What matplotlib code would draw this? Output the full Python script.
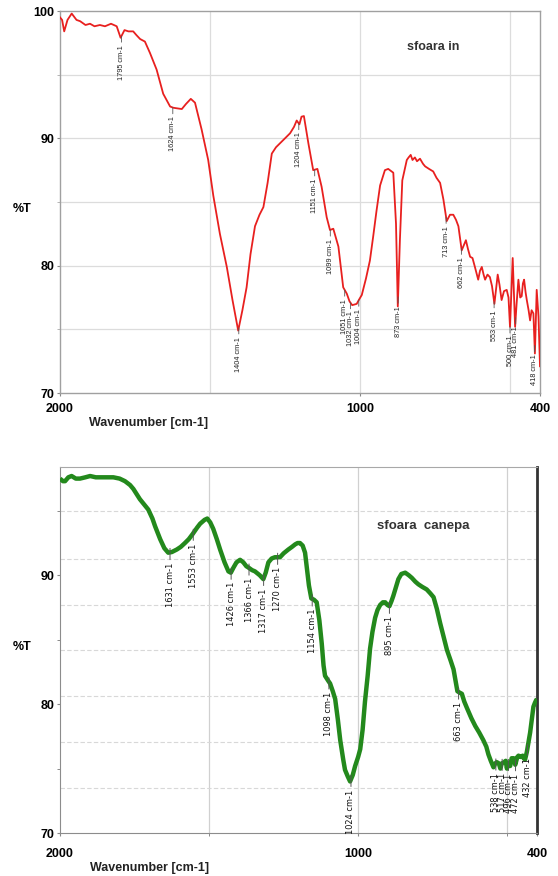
import numpy as np
import matplotlib
matplotlib.use("Agg")
import matplotlib.pyplot as plt
from matplotlib import font_manager

# ---------------- data ----------------
top_wn = [2000, 1993, 1986, 1975, 1961, 1945, 1933, 1915, 1900, 1885, 1867, 1850, 1830, 1811,
          1798, 1785, 1772, 1756, 1745, 1733, 1717, 1700, 1678, 1656, 1633, 1622, 1594, 1580,
          1564, 1550, 1528, 1506, 1489, 1467, 1444, 1425, 1406, 1392, 1378, 1365, 1350, 1335,
          1322, 1308, 1294, 1280, 1267, 1250, 1233, 1220, 1211, 1202, 1195, 1187, 1172, 1156,
          1142, 1128, 1111, 1100, 1089, 1072, 1056, 1044, 1035, 1026, 1011, 1004, 994, 980,
          967, 956, 945, 933, 917, 906, 895, 889, 880, 874, 867, 859, 844, 838, 831, 825, 817,
          810, 800, 790, 783, 770, 756, 745, 733, 722, 711, 700, 689, 680, 672, 661, 647, 640,
          633, 625, 617, 606, 600, 594, 588, 583, 575, 567, 560, 552, 541, 535, 528, 520, 511,
          505, 500, 491, 483, 478, 472, 466, 461, 457, 453, 448, 444, 438, 433, 428, 422, 417,
          411, 405, 400]
top_T = [99.5, 99.3, 98.4, 99.3, 99.8, 99.3, 99.2, 98.9, 99.0, 98.8, 98.9, 98.8, 99.0, 98.8,
         97.9, 98.5, 98.4, 98.4, 98.1, 97.8, 97.6, 96.7, 95.4, 93.5, 92.5, 92.4, 92.3, 92.7,
         93.1, 92.8, 90.7, 88.3, 85.5, 82.5, 79.9, 77.3, 74.9, 76.5, 78.3, 80.9, 83.1, 84.0,
         84.6, 86.5, 88.8, 89.3, 89.6, 90.0, 90.4, 90.9, 91.4, 91.1, 91.7, 91.75, 89.6, 87.5,
         87.6, 86.2, 83.8, 82.8, 82.9, 81.5, 78.3, 77.8, 77.2, 76.9, 77.0, 77.3, 77.7, 79.0,
         80.4, 82.3, 84.3, 86.3, 87.5, 87.6, 87.4, 87.3, 83.3, 76.8, 82.0, 86.7, 88.3, 88.5,
         88.7, 88.3, 88.5, 88.2, 88.4, 88.0, 87.8, 87.6, 87.4, 86.9, 86.5, 85.2, 83.5, 84.0,
         84.0, 83.6, 83.1, 81.2, 82.0, 81.3, 80.7, 80.6, 79.9, 78.9, 79.6, 79.9, 79.3, 78.9,
         79.3, 79.1, 78.4, 77.0, 79.3, 78.5, 77.3, 78.0, 78.1, 77.5, 75.2, 80.6, 75.2, 77.0,
         78.9, 77.5, 77.6, 78.6, 78.9, 77.9, 77.3, 76.5, 75.7, 76.5, 76.25, 73.1, 78.1, 76.0,
         72.1]
top_peaks = [1795, 1624, 1404, 1204, 1151, 1099, 1051, 1032, 1004, 873, 713, 662, 553, 500,
             481, 418]

bot_wn = [2000, 1990, 1983, 1972, 1961, 1947, 1933, 1915, 1899, 1880, 1866, 1840, 1821, 1800,
          1782, 1765, 1754, 1740, 1732, 1718, 1704, 1690, 1681, 1664, 1650, 1637, 1625, 1608,
          1595, 1581, 1568, 1555, 1540, 1530, 1515, 1506, 1496, 1486, 1474, 1463, 1448, 1435,
          1427, 1418, 1408, 1396, 1385, 1375, 1368, 1356, 1346, 1330, 1318, 1310, 1301, 1290,
          1279, 1268, 1262, 1250, 1234, 1222, 1211, 1203, 1195, 1186, 1178, 1170, 1165, 1157,
          1148, 1139, 1130, 1122, 1116, 1111, 1100, 1094, 1085, 1077, 1068, 1060, 1050, 1044,
          1035, 1027, 1018, 1010, 1000, 993, 985, 977, 968, 960, 952, 943, 935, 926, 917, 909,
          902, 895, 888, 882, 873, 865, 855, 842, 830, 820, 808, 798, 785, 770, 758, 747, 736,
          725, 713, 702, 690, 680, 673, 667, 660, 652, 644, 635, 620, 607, 594, 580, 570, 563,
          555, 546, 540, 535, 528, 523, 518, 510, 505, 501, 496, 490, 485, 478, 473, 466, 462,
          455, 448, 445, 440, 434, 429, 423, 417, 412, 407, 403, 400]
bot_T = [97.5, 97.3, 97.3, 97.6, 97.7, 97.5, 97.5, 97.6, 97.7, 97.6, 97.6, 97.6, 97.6, 97.5,
         97.3, 97.0, 96.7, 96.2, 95.9, 95.5, 95.1, 94.4, 93.8, 92.8, 92.1, 91.75, 91.8, 92.0,
         92.2, 92.5, 92.8, 93.2, 93.7, 94.0, 94.3, 94.4, 94.1, 93.6, 92.8, 92.0, 91.0, 90.3,
         90.2, 90.6, 91.0, 91.2, 91.0, 90.7, 90.6, 90.4, 90.3, 90.0, 89.7, 90.2, 91.0, 91.3,
         91.4, 91.4, 91.4, 91.7, 92.0, 92.2, 92.4, 92.5, 92.5, 92.3, 91.75, 90.2, 89.2, 88.2,
         88.1, 87.9, 86.5, 84.7, 83.0, 82.2, 81.8, 81.6, 81.0, 80.4, 78.8, 77.2, 75.7, 74.9,
         74.4, 74.0, 74.5, 75.2, 75.9, 76.5, 78.0, 80.2, 82.2, 84.3, 85.6, 86.7, 87.3, 87.7,
         87.9, 87.9, 87.7, 87.6, 88.0, 88.4, 89.1, 89.7, 90.1, 90.2, 90.0, 89.8, 89.5, 89.3,
         89.1, 88.9, 88.6, 88.3, 87.4, 86.3, 85.2, 84.2, 83.4, 82.7, 81.8, 81.0, 80.9, 80.8,
         80.2, 79.7, 78.9, 78.3, 77.8, 77.2, 76.7, 76.1, 75.6, 75.1, 75.4, 75.5, 75.4, 75.0,
         75.4, 75.5, 75.6, 75.0, 75.4, 75.2, 75.8, 75.8, 75.3, 75.9, 76.0, 75.9, 76.0, 75.8,
         75.7, 76.3, 77.0, 77.8, 78.9, 79.8, 80.1, 80.3, 80.4]
bot_peaks = [1631, 1553, 1426, 1366, 1317, 1270, 1154, 1098, 1024, 895, 663, 538, 517, 496,
             472, 432]

x_ticks = [2000, 1000, 400]
x_grid = [1500, 1000, 500]
y_ticks = [100, 90, 80, 70]
bot_y_ticks = [90, 80, 70]
bot_hgrid = [95.0, 91.3, 87.7, 84.2, 80.6, 77.1, 73.5]

# ---------------- figure ----------------
W, H = 558, 876
fig = plt.figure(figsize=(W / 100, H / 100), dpi=100)
plt.rcParams['font.family'] = ['Liberation Sans', 'DejaVu Sans']

entries = font_manager.fontManager.ttflist
names = {f.name for f in entries}
narrow = 'Liberation Sans Narrow' in names
dv_cond = any(f.name == 'DejaVu Sans' and 'condensed' in str(f.stretch).lower()
              for f in entries)


def fx(px):
    return px / W


def fy(py):
    return 1 - py / H


ax1 = fig.add_axes([fx(60), fy(393), fx(540) - fx(60), fy(11) - fy(393)])
ax2 = fig.add_axes([fx(60), fy(833), fx(537) - fx(60), fy(467) - fy(833)])

# ---- top panel ----
ax1.set_xlim(2000, 400)
ax1.set_ylim(70, 100)
for g in x_grid:
    ax1.axvline(g, color='#dcdcdc', lw=0.9, zorder=0)
for g in [95, 90, 85, 80, 75]:
    ax1.axhline(g, color='#dcdcdc', lw=0.9, zorder=0)
ax1.plot(top_wn, top_T, color='#e8201f', lw=1.3, zorder=3)
for s in ax1.spines.values():
    s.set_color('#a0a0a0')
    s.set_linewidth(1.0)
ax1.set_xticks(x_ticks)
ax1.set_yticks(y_ticks)
ax1.set_yticks([95, 85, 75], minor=True)
ax1.tick_params(axis='both', which='major', labelsize=9, length=2, color='#888')
ax1.tick_params(axis='x', pad=5)
ax1.tick_params(axis='y', pad=2)
ax1.tick_params(axis='y', which='minor', length=2, color='#aaa')
for lab in ax1.get_xticklabels() + ax1.get_yticklabels():
    lab.set_fontweight('bold')
ax1.text(757, 97.2, 'sfoara in', fontsize=9, fontweight='bold', color='#333',
         ha='center', va='center')

tx = np.array(top_wn[::-1], float)
ty = np.array(top_T[::-1], float)
for p in top_peaks:
    yv = np.interp(p, tx, ty)
    ax1.annotate(f"{p} cm-1", xy=(p, yv), xytext=(0, -9), textcoords='offset pixels',
                 rotation=90, ha='center', va='top', fontsize=5.3, color='#222',
                 arrowprops=dict(arrowstyle='-', lw=0.6, color='#555', shrinkA=0, shrinkB=0),
                 zorder=4)

# ---- bottom panel ----
ax2.set_xlim(2000, 400)
ax2.set_ylim(70, 98.4)
for g in x_grid:
    ax2.axvline(g, color='#d0d0d0', lw=0.9, zorder=0)
for g in bot_hgrid:
    ax2.axhline(g, color='#d8d8d8', lw=0.8, ls=(0, (4, 2)), zorder=0)
ax2.plot(bot_wn, bot_T, color='#23891c', lw=3.2, zorder=3, solid_capstyle='butt')
ax2.spines['left'].set_color('#8c8c8c')
ax2.spines['bottom'].set_color('#8c8c8c')
ax2.spines['top'].set_color('#a8a8a8')
ax2.spines['right'].set_color('#333333')
ax2.spines['right'].set_linewidth(2.0)
ax2.set_xticks(x_ticks)
ax2.set_xticks([1500, 500], minor=True)
ax2.set_yticks(bot_y_ticks)
ax2.set_yticks([95, 85, 75], minor=True)
ax2.tick_params(axis='both', which='major', labelsize=9, length=2, color='#888')
ax2.tick_params(axis='x', pad=9)
ax2.tick_params(axis='y', pad=2)
ax2.tick_params(which='minor', length=2, color='#777')
for lab in ax2.get_xticklabels() + ax2.get_yticklabels():
    lab.set_fontweight('bold')
ax2.text(782, 93.8, 'sfoara  canepa', fontsize=9.5, fontweight='bold', color='#333',
         ha='center', va='center')

bx = np.array(bot_wn[::-1], float)
by = np.array(bot_T[::-1], float)
if narrow:
    lab_kw = dict(family=['Liberation Sans Narrow', 'DejaVu Sans'], fontsize=7.5)
elif dv_cond:
    lab_kw = dict(family=['DejaVu Sans'], fontstretch='condensed', fontsize=6.6)
else:
    lab_kw = dict(fontsize=6.6)
for p in bot_peaks:
    yv = np.interp(p, bx, by)
    ax2.annotate(f"{p} cm-1", xy=(p, yv), xytext=(0, -10), textcoords='offset pixels',
                 rotation=90, ha='center', va='top', color='#111', **lab_kw,
                 arrowprops=dict(arrowstyle='-', lw=0.7, color='#555', shrinkA=0, shrinkB=0),
                 zorder=4)
    ax2.annotate("", xy=(p, yv), xytext=(0, 4), textcoords='offset pixels',
                 arrowprops=dict(arrowstyle='-', lw=0.7, color='#555', shrinkA=0, shrinkB=0),
                 zorder=4)

# ---- figure texts ----
fig.text(fx(22), fy(209), '%T', fontsize=9, fontweight='bold', ha='center', va='center')
fig.text(fx(22), fy(647), '%T', fontsize=9, fontweight='bold', ha='center', va='center')
fig.text(fx(149), fy(423), 'Wavenumber [cm-1]', fontsize=9, fontweight='bold',
         ha='center', va='center', color='#222')
fig.text(fx(150), fy(868), 'Wavenumber [cm-1]', fontsize=9, fontweight='bold',
         ha='center', va='center', color='#222')

fig.savefig('out.png', dpi=100)
